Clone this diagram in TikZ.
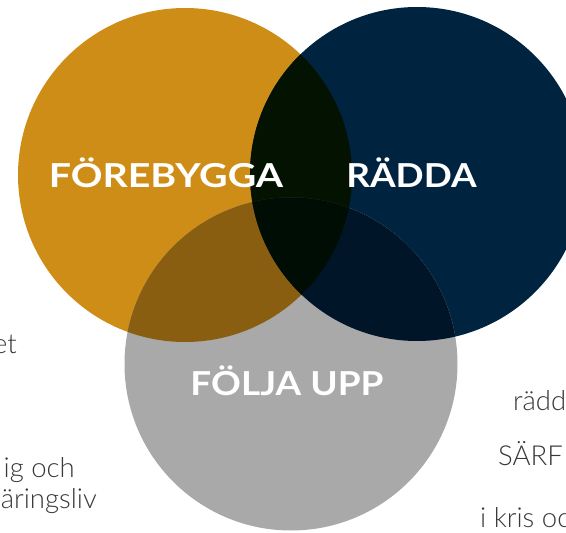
\documentclass[tikz,border=0pt]{standalone}
\usepackage{fontspec}
\setmainfont{Lato}
\IfFontExistsTF{Lato Light}{\newfontfamily\sidefont{Lato Light}}{\newfontfamily\sidefont{Lato}}
\newfontfamily\labfont{Lato}[FakeStretch=1.12]
\definecolor{gold}{RGB}{206,141,23}
\definecolor{navy}{RGB}{0,35,64}
\definecolor{grayc}{RGB}{169,169,170}
\definecolor{gn}{RGB}{4,18,2}
\definecolor{ga}{RGB}{137,94,16}
\definecolor{na}{RGB}{0,21,40}
\definecolor{gna}{RGB}{0,13,4}
\definecolor{sidetext}{RGB}{56,56,56}
\tikzset{
  biglabel/.style={text=white, font=\labfont\bfseries\fontsize{33}{36}\selectfont, anchor=base, inner sep=0pt},
  sidelabel/.style={text=sidetext, font=\sidefont\fontsize{27.5}{30}\selectfont, inner sep=0pt}
}
\begin{document}
\begin{tikzpicture}[x=1pt,y=-1pt]
\useasboundingbox (0,0) rectangle (566,533);
\clip (0,0) rectangle (566,533);
\def\cG{(185,175) circle (167)}
\def\cN{(417,174) circle (167)}
\def\cA{(291,364) circle (166.5)}
% base circles
\fill[gold] \cG;
\fill[navy] \cN;
\fill[grayc] \cA;
% pairwise overlaps
\begin{scope}\clip \cG; \fill[gn] \cN; \end{scope}
\begin{scope}\clip \cG; \fill[ga] \cA; \end{scope}
\begin{scope}\clip \cN; \fill[na] \cA; \end{scope}
\begin{scope}\clip \cG; \clip \cN; \fill[gna] \cA; \end{scope}
% labels
\node[biglabel] (forebygga) at (166,187) {\scalebox{1.064}[1]{FÖREBYGGA}};
\node[biglabel] (radda) at (411.5,187) {RÄDDA};
\node[biglabel] (folja) at (287,395) {FÖLJA UPP};
% cropped side texts
\node[sidelabel, anchor=base east] (t1) at (17,353) {et};
\node[sidelabel, anchor=base east] (t2) at (75,477) {ig och};
\node[sidelabel, anchor=base east] (t3) at (97,508) {äringsliv};
\node[sidelabel, anchor=base west] (t4) at (513,410) {rädd};
\node[sidelabel, anchor=base west] (t5) at (498,465) {SÄRF};
\node[sidelabel, anchor=base west] (t6) at (480,527) {i kris oc};
\end{tikzpicture}
\end{document}
